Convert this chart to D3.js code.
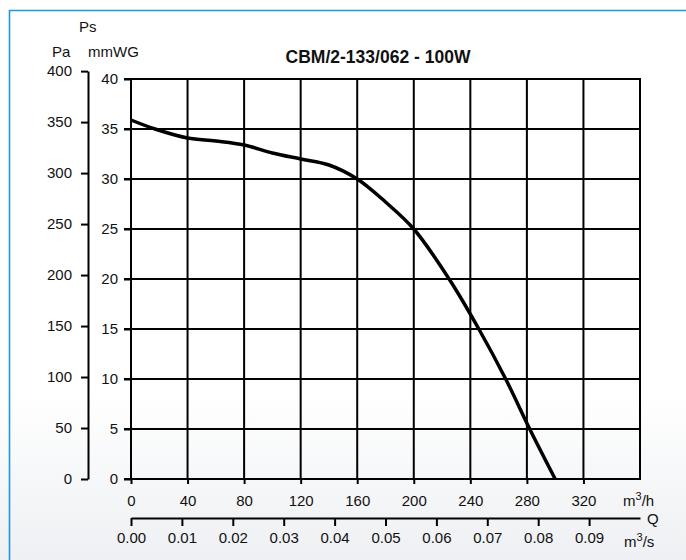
<!DOCTYPE html>
<html>
<head>
<meta charset="utf-8">
<script src="https://cdn.jsdelivr.net/npm/d3@7"></script>
<style>
  html, body { margin: 0; padding: 0; background: #fff; }
  svg { display: block; font-family: "Liberation Sans", Arial, sans-serif; }
  .axis text { font-size: 15px; fill: #111; }
  .axis path, .axis line { stroke: #000; stroke-width: 2; }
</style>
</head>
<body>
<div id="chart"></div>
<script>
// fan curve (m3/h vs mmWG)
const flowM3h = [0, 17, 40, 60, 80, 100, 120, 140, 160, 180, 200, 225, 246, 265, 282, 300];
const pressureMmWG = [35.9, 35.0, 34.1, 33.8, 33.4, 32.6, 32.0, 31.4, 30.0, 27.7, 25.0, 20.0, 15.0, 10.0, 5.0, 0];

const flowTicks = [0, 40, 80, 120, 160, 200, 240, 280, 320];
const flowSecTicks = [0, 0.01, 0.02, 0.03, 0.04, 0.05, 0.06, 0.07, 0.08, 0.09];
const mmwgTicks = [0, 5, 10, 15, 20, 25, 30, 35, 40];
const paTicks = [0, 50, 100, 150, 200, 250, 300, 350, 400];

const title = "CBM/2-133/062 - 100W";
const PA_PER_MMWG = 9.80665;

const W = 686, H = 560;

const svg = d3.select("#chart")
    .append("svg")
    .attr("width", W)
    .attr("height", H);

// faint background shading at the bottom
const defs = svg.append("defs");
const grad = defs.append("linearGradient")
    .attr("id", "bg").attr("x1", 0).attr("y1", 0).attr("x2", 0).attr("y2", 1);
grad.append("stop").attr("offset", "0.7").attr("stop-color", "#ffffff");
grad.append("stop").attr("offset", "1").attr("stop-color", "#eef0f3");
svg.append("rect").attr("width", W).attr("height", H).attr("fill", "url(#bg)");

// blue frame (top and left only)
svg.append("line").attr("x1", 9).attr("y1", 10.5).attr("x2", W).attr("y2", 10.5)
    .attr("stroke", "#1d98d8").attr("stroke-width", 1.6);
svg.append("line").attr("x1", 9.5).attr("y1", 10).attr("x2", 9.5).attr("y2", H)
    .attr("stroke", "#1d98d8").attr("stroke-width", 1.6);

// scales
const x = d3.scaleLinear().domain([0, 360]).range([131, 640]);
const y = d3.scaleLinear().domain([0, 40]).range([479, 79]);
const yPa = d3.scaleLinear().domain([0, 400]).range([y(0), y(400 / PA_PER_MMWG)]);
const xSec = d3.scaleLinear().domain([0, 0.1]).range([x(0), x(0.1 * 3600)]);

// grid
const grid = svg.append("g").attr("stroke", "#000").attr("stroke-width", 2);
grid.selectAll(".gx")
    .data(flowTicks.concat([360]))
    .enter().append("line")
    .attr("x1", d => x(d)).attr("x2", d => x(d))
    .attr("y1", y(0)).attr("y2", y(40));
grid.selectAll(".gy")
    .data(mmwgTicks)
    .enter().append("line")
    .attr("x1", x(0) - 7).attr("x2", x(360) + 1)
    .attr("y1", d => y(d)).attr("y2", d => y(d));

// mmWG axis
svg.append("g")
    .attr("class", "axis")
    .attr("transform", `translate(${x(0)},0)`)
    .call(d3.axisLeft(y).tickValues(mmwgTicks).tickSize(7).tickPadding(6))
    .call(g => g.select(".domain").remove());

// Pa axis
svg.append("g")
    .attr("class", "axis")
    .attr("transform", "translate(88,0)")
    .call(d3.axisLeft(yPa).tickValues(paTicks).tickSize(7).tickPadding(9).tickSizeOuter(0));

// m3/h axis
svg.append("g")
    .attr("class", "axis")
    .attr("transform", `translate(0,${y(0)})`)
    .call(d3.axisBottom(x).tickValues(flowTicks).tickSize(5).tickPadding(11))
    .call(g => g.select(".domain").remove());

// m3/s axis
svg.append("g")
    .attr("class", "axis")
    .attr("transform", "translate(0,518)")
    .call(d3.axisBottom(xSec).tickValues(flowSecTicks).tickFormat(d3.format(".2f"))
        .tickSize(8).tickPadding(6).tickSizeOuter(0));

// curve
const points = flowM3h.map((q, i) => [q, pressureMmWG[i]]);
svg.append("path")
    .datum(points)
    .attr("fill", "none")
    .attr("stroke", "#000")
    .attr("stroke-width", 3.5)
    .attr("stroke-linejoin", "round")
    .attr("d", d3.line().x(d => x(d[0])).y(d => y(d[1])).curve(d3.curveCatmullRom.alpha(0.5)));

// labels
const lab = svg.append("g").attr("font-size", 15).attr("fill", "#111");
lab.append("text").attr("x", 79).attr("y", 32).text("Ps");
lab.append("text").attr("x", 52).attr("y", 57).text("Pa");
lab.append("text").attr("x", 88).attr("y", 57).text("mmWG");

const unitH = lab.append("text").attr("x", 623).attr("y", 506);
unitH.append("tspan").text("m");
unitH.append("tspan").attr("font-size", 11).attr("dy", -6).text("3");
unitH.append("tspan").attr("dy", 6).text("/h");

lab.append("text").attr("x", 647).attr("y", 524).text("Q");

const unitS = lab.append("text").attr("x", 624).attr("y", 547);
unitS.append("tspan").text("m");
unitS.append("tspan").attr("font-size", 11).attr("dy", -6).text("3");
unitS.append("tspan").attr("dy", 6).text("/s");

svg.append("text")
    .attr("x", 378).attr("y", 63)
    .attr("text-anchor", "middle")
    .attr("font-size", 17.5)
    .attr("font-weight", "bold")
    .attr("fill", "#111")
    .text(title);
</script>
</body>
</html>
